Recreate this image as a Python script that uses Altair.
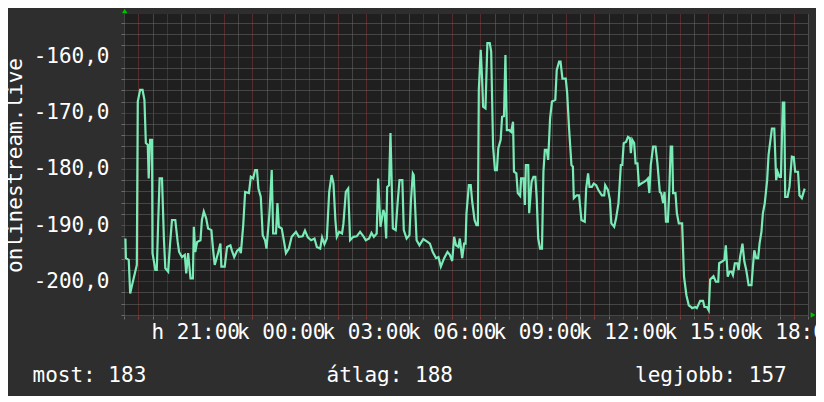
import altair as alt
import pandas as pd

# minutes after Monday 18:30
minutes = [
    3, 4, 10, 13, 17, 22, 27, 29, 34, 39, 43, 46, 50, 52, 55, 59, 60, 66, 69, 72,
    75, 80, 84, 87, 93, 97, 101, 108, 113, 116, 122, 128, 131, 135, 140, 145, 147, 150, 154, 161,
    164, 168, 173, 177, 184, 187, 191, 198, 203, 205, 212, 217, 224, 227, 232, 238,
    243, 246, 251, 255, 263, 267, 272, 276, 280, 283, 288, 292, 297, 300, 306, 311, 314, 320, 323, 326,
    332, 337, 341, 347, 353, 362, 368, 376, 381, 387, 394, 401, 406, 413, 417, 422, 427, 432, 437, 441,
    445, 448, 453, 459, 462, 467, 472, 476,
    483, 490, 497, 504, 509, 516, 521, 526, 532, 535, 540, 546, 549, 552, 554, 558, 561, 566, 572, 576,
    580, 586, 589, 595, 601, 604, 608, 610, 616, 622, 630, 639, 644, 650, 657, 662, 667, 674, 681, 686,
    691, 695, 699, 704, 707, 712, 716,
    719, 721, 726, 730, 733, 738, 742, 745, 747, 751, 754, 756, 761, 765, 770, 773, 777, 781, 785, 788,
    793, 796, 800, 803, 806, 811, 815, 819, 821, 826, 829, 834, 836, 841, 844, 846, 851, 853, 858, 862,
    866, 869, 872, 876, 880, 883, 886, 890, 893, 897, 901, 908, 911, 916, 919, 923, 930, 933, 937, 942,
    945, 947, 953, 958,
    963, 970, 973, 977, 980, 985, 989, 994, 999, 1006, 1011, 1013, 1019, 1023, 1026, 1032, 1036, 1041, 1046, 1049,
    1052, 1057, 1061, 1065, 1067, 1070, 1074, 1077, 1081, 1084, 1089, 1095, 1100, 1103, 1106, 1109, 1114, 1119, 1123, 1128,
    1131, 1135, 1138, 1141, 1145, 1148, 1151, 1154, 1156, 1161, 1164, 1168, 1175, 1179, 1184, 1189, 1194,
    1196, 1203, 1206, 1213, 1219, 1222, 1227, 1231, 1234, 1241, 1246, 1251, 1253, 1259, 1264, 1267, 1271, 1275, 1279, 1282,
    1286, 1291, 1294, 1297, 1302, 1306, 1310, 1315, 1321, 1324, 1327, 1331, 1335, 1338, 1342, 1345, 1349, 1354, 1357, 1361,
    1364, 1369, 1373, 1376, 1380, 1383, 1387, 1390, 1392, 1397, 1401, 1406, 1410, 1413, 1419, 1422, 1427, 1433,
]

values = [
    -192.4, -195.9, -196.2, -202.2, -200.7, -198.9, -197.1, -168.0, -165.9, -165.9,
    -167.7, -175.4, -175.7, -181.7, -174.8, -174.8, -195.0, -198.0, -198.0, -189.4,
    -181.7, -181.7, -192.4, -197.7, -198.3, -193.3, -189.1, -189.1, -193.0, -194.8,
    -195.7, -195.3, -198.6, -195.0, -199.5, -199.5, -190.3, -194.8, -193.0, -192.7,
    -189.1, -187.6, -188.8, -190.6, -190.9, -193.9, -197.1, -195.0, -193.3, -197.4,
    -197.4, -193.9, -193.6, -194.5, -195.7, -194.6,
    -194.2, -195.0, -190.0, -184.1, -184.3, -181.4, -181.7, -180.2, -180.2, -183.5,
    -185.0, -191.8, -192.7, -194.2, -188.2, -180.2, -191.5, -191.5, -186.1, -190.3,
    -190.6, -193.0, -195.0, -194.2, -192.1, -191.2, -192.1, -192.0, -191.0, -192.2,
    -192.7, -192.4, -193.9, -194.2, -192.2, -193.4, -192.4, -184.1, -181.1, -182.6,
    -189.1, -192.1, -191.2, -191.5, -189.7, -184.1, -183.5, -192.7,
    -192.1, -192.0, -191.2, -192.0, -192.7, -192.4, -191.4, -192.1, -191.5, -181.7,
    -190.3, -187.3, -188.2, -192.4, -183.2, -182.9, -173.6, -190.6, -190.9, -186.1,
    -182.0, -182.0, -190.9, -192.4, -191.8, -185.8, -180.8, -181.1, -192.7, -193.6,
    -192.5, -193.0, -193.3, -194.8, -195.9, -195.7, -197.4, -195.9, -194.8, -195.3,
    -196.4, -192.1, -193.6, -193.9, -192.4, -195.9, -193.3,
    -193.3, -187.9, -182.9, -182.9, -185.8, -189.1, -190.0, -190.0, -165.9, -158.8,
    -164.2, -168.9, -169.2, -157.6, -157.6, -159.1, -176.0, -180.2, -180.2, -176.3,
    -174.8, -170.7, -170.6, -159.7, -173.1, -173.1, -173.4, -171.6, -180.5, -180.8,
    -184.3, -184.8, -181.7, -181.7, -186.4, -179.3, -179.3, -187.9, -182.3, -181.4,
    -181.4, -185.5, -192.4, -194.2, -194.2, -180.5, -176.6, -176.6, -178.4, -171.0,
    -168.0, -167.7, -162.4, -160.9, -160.9, -163.9, -163.9, -166.5, -172.8, -179.3,
    -179.6, -185.2, -184.7, -184.7,
    -189.1, -189.4, -183.5, -180.8, -183.2, -183.2, -182.6, -182.9, -183.8, -184.7,
    -184.7, -182.9, -183.8, -185.5, -189.7, -190.3, -188.8, -186.1, -179.3, -179.3,
    -175.4, -175.2, -174.3, -174.5, -177.2, -174.8, -175.4, -179.0, -179.0, -182.9,
    -182.6, -182.3, -182.0, -181.7, -184.3, -179.3, -176.0, -176.0, -179.0, -184.1,
    -184.3, -186.1, -184.1, -189.4, -189.4, -183.8, -176.0, -176.0, -184.3, -184.3,
    -187.9, -189.7, -189.7, -199.2, -202.5, -204.3, -204.6,
    -204.8, -204.6, -204.8, -203.5, -203.5, -204.6, -204.6, -205.2, -199.7, -199.1,
    -200.1, -200.1, -196.8, -196.5, -196.2, -193.6, -199.2, -198.3, -198.3, -198.9,
    -196.8, -196.8, -198.0, -195.7, -193.3, -196.5, -198.0, -200.7, -200.7, -197.4,
    -194.5, -195.9, -195.9, -193.3, -191.2, -187.9, -186.1, -182.0, -177.5, -174.8,
    -172.8, -172.8, -182.0, -180.5, -181.4, -181.4, -168.2, -168.2, -185.0, -185.0,
    -183.2, -177.8, -177.9, -180.5, -180.5, -184.7, -185.2, -183.5,
]

legend_labels = ["most: 183", "átlag: 188", "legjobb: 157"]
y_title = "onlinestream.live"

df = pd.DataFrame({"minute": minutes, "value": values})
df["hour"] = 18.5 + df["minute"] / 60.0

FONT = "DejaVu Sans Mono"
FS = 21
WHITE = "#ffffff"
MINOR = "#6c6c6c"
MAJOR = "#8e3838"
LINE = "#7aeab6"
ARROW = "#00c400"

x_ticks = [18.5 + 0.5 * i for i in range(49)]
y_ticks = list(range(-206, -152, 2))

x_major = {"condition": {"test": "datum.value % 1 === 0", "value": MAJOR}, "value": MINOR}
y_major = {"condition": {"test": "datum.value % 10 === 0", "value": MAJOR}, "value": MINOR}

x_axis = alt.Axis(
    values=x_ticks, grid=True, gridColor=x_major, gridDash=[1, 1], gridWidth=1,
    tickColor=x_major, tickSize=3, domain=False, title=None,
    labelExpr="datum.value % 3 === 0 ? ((datum.value < 24 ? 'h ' : 'k ') + format(datum.value % 24, '02d') + ':00') : ''",
    labelFont=FONT, labelFontSize=FS, labelColor=WHITE, labelPadding=2.5,
    labelOverlap=False, labelFlush=False, labelBound=False,
)
y_axis = alt.Axis(
    values=y_ticks, grid=True, gridColor=y_major, gridDash=[1, 1], gridWidth=1,
    tickColor=y_major, tickSize=3, domain=False,
    labelExpr="datum.value % 10 === 0 ? ('-' + replace(format(-datum.value, '.1f'), '.', ',')) : ''",
    labelFont=FONT, labelFontSize=FS, labelColor=WHITE, labelPadding=12,
    labelOverlap=False, labelFlush=False, labelBound=False,
    title=y_title, titleFont=FONT, titleFontSize=FS, titleFontWeight="normal", titleColor=WHITE,
    titleAngle=270, titleX=-109, titleY=151, titleAlign="center", titleBaseline="middle",
)

line = alt.Chart(df).mark_line(color=LINE, strokeWidth=2.2, clip=True).encode(
    x=alt.X("hour:Q", scale=alt.Scale(domain=[18.5, 42.5], nice=False, zero=False), axis=x_axis),
    y=alt.Y("value:Q", scale=alt.Scale(domain=[-206.2, -152.4], nice=False, zero=False), axis=y_axis),
)

deco = pd.DataFrame({"k": [0]})
arrow_up = alt.Chart(deco).mark_point(shape="triangle-up", filled=True, color=ARROW, size=30, opacity=1).encode(
    x=alt.value(0.7), y=alt.value(-3)
)
arrow_right = alt.Chart(deco).mark_point(shape="triangle-right", filled=True, color=ARROW, size=30, opacity=1).encode(
    x=alt.value(689), y=alt.value(301)
)

text_x = [-91.5, 202.5, 511]
texts = [
    alt.Chart(deco).mark_text(align="left", baseline="alphabetic", font=FONT, fontSize=FS, color=WHITE).encode(
        x=alt.value(tx), y=alt.value(367.7), text=alt.value(lbl)
    )
    for tx, lbl in zip(text_x, legend_labels)
]

chart = alt.layer(line, arrow_up, arrow_right, *texts).properties(
    width=684, height=302,
    autosize=alt.AutoSizeParams(type="none"),
    padding={"left": 116, "top": 6, "right": 8, "bottom": 80},
    background="#2e2e2e",
).configure_view(fill="#1f1f1f", strokeWidth=0)

chart.save("out.html", embed_options={"renderer": "svg", "actions": False})
